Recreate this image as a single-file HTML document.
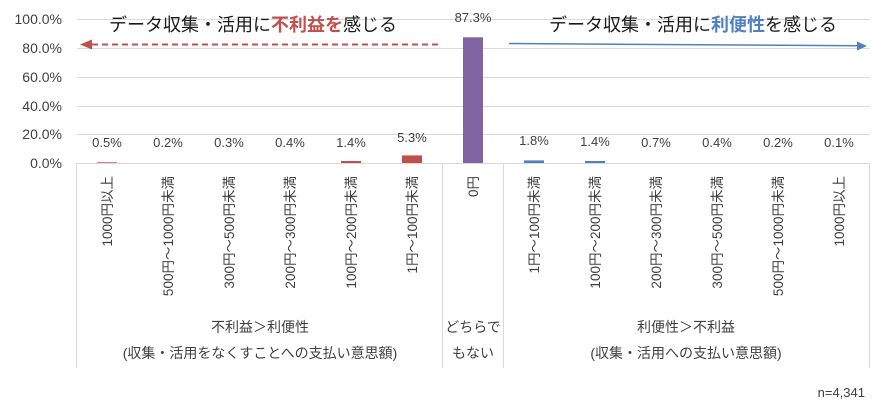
<!DOCTYPE html>
<html><head><meta charset="utf-8"><style>
html,body{margin:0;padding:0;background:#fff;}
svg{display:block;font-family:"Liberation Sans","Noto Sans CJK JP",sans-serif;}
</style></head><body>
<svg width="887" height="406" viewBox="0 0 887 406" xmlns="http://www.w3.org/2000/svg">
<g stroke="#d9d9d9" stroke-width="1">
<line x1="77" y1="19.5" x2="870" y2="19.5"/>
<line x1="77" y1="48.5" x2="870" y2="48.5"/>
<line x1="77" y1="77.5" x2="870" y2="77.5"/>
<line x1="77" y1="106.5" x2="870" y2="106.5"/>
<line x1="77" y1="134.5" x2="870" y2="134.5"/>
<line x1="77" y1="163.5" x2="870" y2="163.5"/>
<line x1="76.5" y1="163" x2="76.5" y2="368"/>
<line x1="442.5" y1="163" x2="442.5" y2="368"/>
<line x1="503.5" y1="163" x2="503.5" y2="368"/>
<line x1="869.5" y1="163" x2="869.5" y2="368"/>
</g>
<g font-size="14" fill="#404040" text-anchor="end">
<text x="62" y="24">100.0%</text><text x="62" y="53">80.0%</text><text x="62" y="82">60.0%</text>
<text x="62" y="111">40.0%</text><text x="62" y="139">20.0%</text><text x="62" y="168">0.0%</text>
</g>
<g>
<rect x="97" y="162.3" width="20" height="0.7" fill="#c0504d"/>
<rect x="341" y="161" width="20" height="2" fill="#c0504d"/>
<rect x="402" y="155.4" width="20" height="7.6" fill="#c0504d"/>
<rect x="463" y="37.3" width="20" height="125.7" fill="#8064a2"/>
<rect x="524" y="160.4" width="20" height="2.6" fill="#4f81bd"/>
<rect x="585" y="161" width="20" height="2" fill="#4f81bd"/>
</g>
<g font-size="13" fill="#404040" text-anchor="middle">
<text x="107" y="147">0.5%</text><text x="168" y="147">0.2%</text><text x="229" y="147">0.3%</text>
<text x="290" y="147">0.4%</text><text x="351" y="147">1.4%</text><text x="412" y="142">5.3%</text>
<text x="473" y="22">87.3%</text>
<text x="534" y="145">1.8%</text><text x="595" y="146">1.4%</text><text x="656" y="147">0.7%</text>
<text x="717" y="147">0.4%</text><text x="778" y="147">0.2%</text><text x="839" y="147">0.1%</text>
</g>
<g font-size="13.5" fill="#404040" text-anchor="end">
<text transform="translate(112,176) rotate(-90)">1000円以上</text>
<text transform="translate(173,176) rotate(-90)">500円～1000円未満</text>
<text transform="translate(234,176) rotate(-90)">300円～500円未満</text>
<text transform="translate(295,176) rotate(-90)">200円～300円未満</text>
<text transform="translate(356,176) rotate(-90)">100円～200円未満</text>
<text transform="translate(417,176) rotate(-90)">1円～100円未満</text>
<text transform="translate(478,176) rotate(-90)">0円</text>
<text transform="translate(539,176) rotate(-90)">1円～100円未満</text>
<text transform="translate(600,176) rotate(-90)">100円～200円未満</text>
<text transform="translate(661,176) rotate(-90)">200円～300円未満</text>
<text transform="translate(722,176) rotate(-90)">300円～500円未満</text>
<text transform="translate(783,176) rotate(-90)">500円～1000円未満</text>
<text transform="translate(844,176) rotate(-90)">1000円以上</text>
</g>
<g font-size="14" fill="#404040" text-anchor="middle">
<text x="260" y="332">不利益＞利便性</text>
<text x="260" y="358">(収集・活用をなくすことへの支払い意思額)</text>
<text x="473" y="332">どちらで</text>
<text x="473" y="358">もない</text>
<text x="686" y="332">利便性＞不利益</text>
<text x="686" y="358">(収集・活用への支払い意思額)</text>
</g>
<text x="865" y="397" font-size="13" fill="#404040" text-anchor="end">n=4,341</text>
<g font-size="18" fill="#1a1a1a" text-anchor="middle">
<text x="253" y="31">データ収集・活用に<tspan fill="#c0504d" font-weight="bold">不利益を</tspan>感じる</text>
<text x="693" y="31">データ収集・活用に<tspan fill="#4f81bd" font-weight="bold">利便性</tspan>を感じる</text>
</g>
<line x1="92" y1="44.5" x2="440" y2="44.5" stroke="#c0504d" stroke-width="2" stroke-dasharray="6,4"/>
<polygon points="80,44.5 92,39.5 92,49.5" fill="#c0504d"/>
<line x1="509" y1="43.5" x2="858" y2="45.8" stroke="#4f81bd" stroke-width="1.5"/>
<polygon points="867,46 857,41.5 857,50.5" fill="#4f81bd"/>
</svg>
</body></html>
